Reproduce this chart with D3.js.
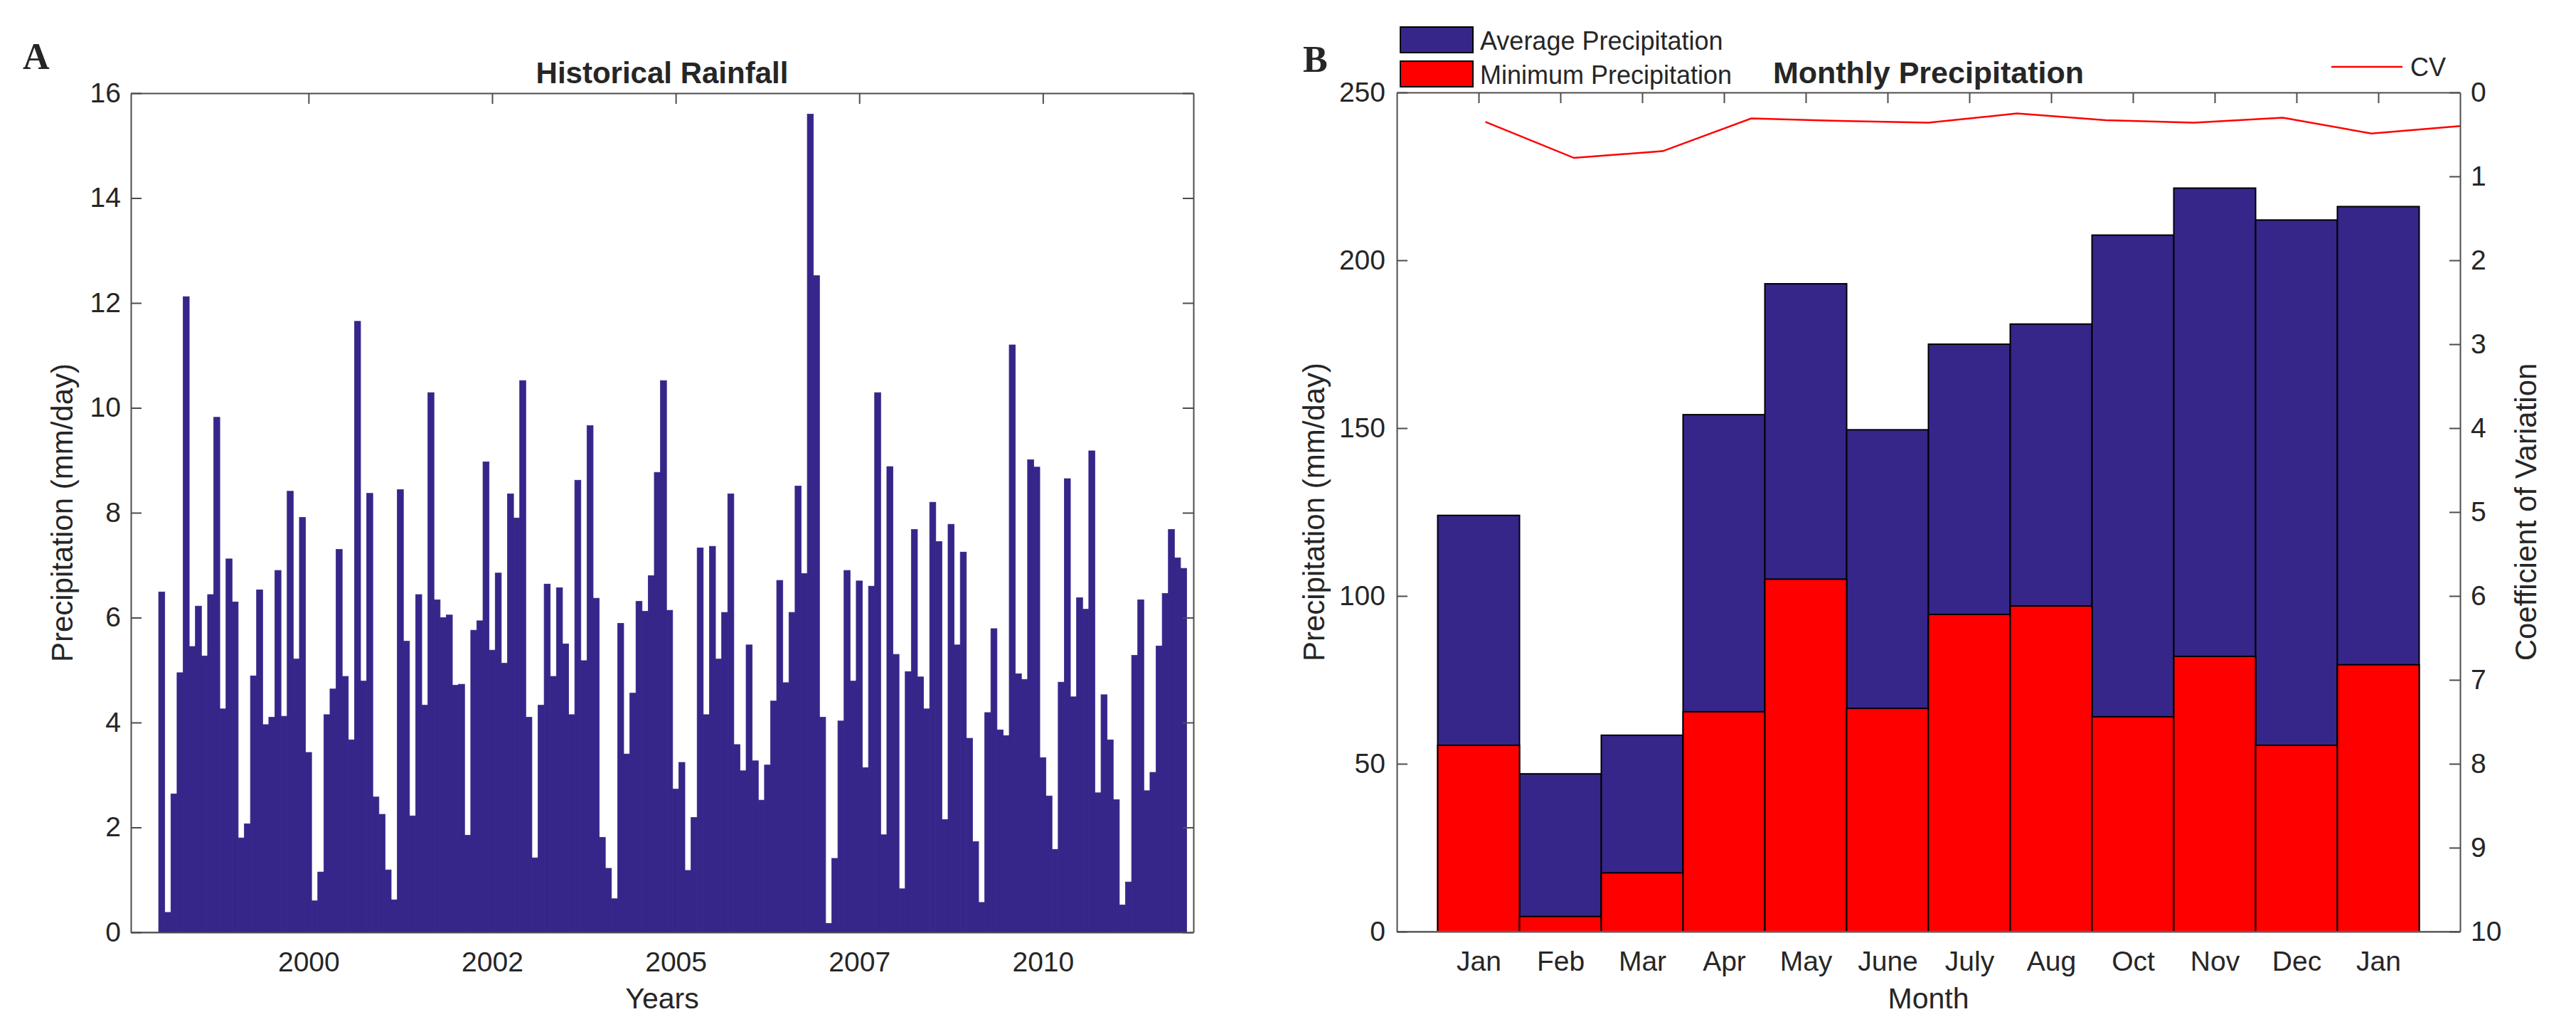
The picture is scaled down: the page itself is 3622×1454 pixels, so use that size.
<!DOCTYPE html>
<html><head><meta charset="utf-8">
<script src="https://cdn.jsdelivr.net/npm/d3@7"></script>
<style>
body{margin:0;background:#fff}
text{font-family:"Liberation Sans",Arial,Helvetica,sans-serif;fill:#262626}
</style>
</head><body>
<svg id="chart" width="3622" height="1454"></svg>
<script>
// ---------- data: panel A (monthly rainfall, mm/day) ----------
const rainfallStartYear = 1998;
const rainfall = [
 6.49,0.38,2.64,4.95,12.12,5.45,6.22,5.27,6.44,9.82,4.26,7.12,
 6.30,1.80,2.07,4.89,6.53,3.96,4.10,6.90,4.12,8.41,5.21,7.91,
 3.43,0.60,1.15,4.15,4.64,7.30,4.88,3.67,11.65,4.79,8.37,2.58,
 2.25,1.19,0.62,8.44,5.55,2.22,6.44,4.33,10.29,6.34,6.00,6.05,
 4.71,4.73,1.85,5.76,5.94,8.97,5.38,6.85,5.13,8.36,7.90,10.52,
 4.10,1.42,4.33,6.64,4.88,6.57,5.50,4.15,8.62,5.18,9.66,6.37,
 1.81,1.22,0.64,5.89,3.40,4.56,6.31,6.12,6.80,8.77,10.52,6.14,
 2.73,3.24,1.18,2.19,7.33,4.15,7.36,5.21,6.10,8.36,3.58,3.08,
 5.48,3.27,2.52,3.19,4.41,6.71,4.76,6.10,8.51,6.84,15.60,12.52,
 4.10,0.17,1.41,4.03,6.90,4.79,6.70,3.14,6.60,10.29,1.86,8.88,
 5.30,0.83,4.97,7.68,4.87,4.26,8.20,7.45,2.15,7.78,5.48,7.25,
 3.70,1.73,0.57,4.19,5.79,3.86,3.75,11.20,4.93,4.82,9.01,8.87,
 3.33,2.60,1.58,4.77,8.65,4.49,6.38,6.16,9.18,2.66,4.53,3.67,
 2.53,0.52,0.96,5.28,6.34,2.70,3.05,5.46,6.46,7.68,7.14,6.94
];
const yearTickValues = [2000, 2002.5, 2005, 2007.5, 2010];
const yearTickLabels = ["2000", "2002", "2005", "2007", "2010"];
const rainTicks = [0, 2, 4, 6, 8, 10, 12, 14, 16];

// ---------- data: panel B (monthly precipitation) ----------
const months = ["Jan","Feb","Mar","Apr","May","June","July","Aug","Oct","Nov","Dec","Jan"];
const avgPrecip = [124, 47, 58.5, 154, 193, 149.5, 175, 181, 207.5, 221.5, 212, 216];
const minPrecip = [55.5, 4.5, 17.5, 65.5, 105, 66.5, 94.5, 97, 64, 82, 55.5, 79.5];
const cvValues  = [0.35, 0.78, 0.70, 0.31, 0.34, 0.36, 0.25, 0.33, 0.36, 0.30, 0.49, 0.40];
const precipTicks = [0, 50, 100, 150, 200, 250];
const cvTicks = [0,1,2,3,4,5,6,7,8,9,10];

const BLUE = "#36268a", RED = "#ff0000", AX = "#4d4d4d";
const svg = d3.select("#chart");
svg.append("rect").attr("width",3622).attr("height",1454).attr("fill","#fff");

function styleAxis(g){
  g.select(".domain").attr("stroke", AX).attr("stroke-width", 2);
  g.selectAll(".tick line").attr("stroke", AX).attr("stroke-width", 2);
  g.selectAll(".tick text").attr("font-size", 39).attr("fill", "#262626")
   .style("font-family", '"Liberation Sans",Arial,sans-serif');
}

// ================= Panel A =================
const A = {l:184, r:1678, t:131, b:1311};
const xA = d3.scaleLinear().domain([1997.58, 2012.05]).range([A.l, A.r]);
const yA = d3.scaleLinear().domain([0, 16]).range([A.b, A.t]);
const monthW = xA(1/12) - xA(0);

const gA = svg.append("g");
gA.selectAll("rect.bar").data(rainfall).join("rect")
  .attr("class","bar")
  .attr("x", (d,i) => xA(rainfallStartYear + i/12 - 1/24))
  .attr("width", monthW)
  .attr("y", d => yA(d))
  .attr("height", d => yA(0) - yA(d))
  .attr("fill", BLUE).attr("stroke", BLUE).attr("stroke-width", 0.8);

// baseline
gA.append("line").attr("x1",A.l).attr("x2",xA(rainfallStartYear - 1/24)).attr("y1",yA(0)).attr("y2",yA(0))
  .attr("stroke","#8f8f8f").attr("stroke-width",2);

gA.append("g").attr("transform",`translate(${A.l},0)`)
  .call(d3.axisLeft(yA).tickValues(rainTicks).tickSizeInner(-15).tickSizeOuter(0).tickPadding(14))
  .call(styleAxis);
gA.append("g").attr("transform",`translate(${A.r},0)`)
  .call(d3.axisRight(yA).tickValues(rainTicks).tickSizeInner(-15).tickSizeOuter(0).tickFormat(""))
  .call(styleAxis);
gA.append("g").attr("transform",`translate(0,${A.t})`)
  .call(d3.axisTop(xA).tickValues(yearTickValues).tickSizeInner(-15).tickSizeOuter(0).tickFormat(""))
  .call(styleAxis);
gA.append("g").attr("transform",`translate(0,${A.b})`)
  .call(d3.axisBottom(xA).tickValues(yearTickValues).tickSizeInner(0).tickSizeOuter(0).tickPadding(27)
        .tickFormat((d,i) => yearTickLabels[i]))
  .call(styleAxis);

gA.append("text").attr("x",(A.l+A.r)/2).attr("y",117).attr("text-anchor","middle")
  .attr("font-size",42).attr("font-weight","bold").attr("fill","#000").text("Historical Rainfall");
gA.append("text").attr("x",(A.l+A.r)/2).attr("y",1418).attr("text-anchor","middle")
  .attr("font-size",41).text("Years");
gA.append("text").attr("transform",`translate(102,${(A.t+A.b)/2}) rotate(-90)`)
  .attr("text-anchor","middle").attr("font-size",42).text("Precipitation (mm/day)");
svg.append("text").attr("x",32).attr("y",97).attr("font-size",52).attr("font-weight","bold")
  .style("font-family",'"Liberation Serif","Times New Roman",serif').attr("fill","#000").text("A");

// ================= Panel B =================
const B = {l:1964, r:3459, t:130, b:1310};
const xB = d3.scaleLinear().domain([0, 13]).range([B.l, B.r]);
const yB = d3.scaleLinear().domain([0, 250]).range([B.b, B.t]);
const xCV = d3.scaleLinear().domain([0, 12]).range([B.l, B.r]);
const yCV = d3.scaleLinear().domain([0, 10]).range([B.t, B.b]);
const catPos = months.map((m,i) => i + 1);

const gB = svg.append("g");
gB.selectAll("rect.avg").data(avgPrecip).join("rect").attr("class","avg")
  .attr("x",(d,i)=>xB(catPos[i]-0.5)).attr("width",xB(1)-xB(0))
  .attr("y",d=>yB(d)).attr("height",d=>yB(0)-yB(d))
  .attr("fill",BLUE).attr("stroke","#000").attr("stroke-width",2);
gB.selectAll("rect.min").data(minPrecip).join("rect").attr("class","min")
  .attr("x",(d,i)=>xB(catPos[i]-0.5)).attr("width",xB(1)-xB(0))
  .attr("y",d=>yB(d)).attr("height",d=>yB(0)-yB(d))
  .attr("fill",RED).attr("stroke","#000").attr("stroke-width",2);

gB.append("line").attr("x1",B.l).attr("x2",B.r).attr("y1",yB(0)).attr("y2",yB(0))
  .attr("stroke","#8f8f8f").attr("stroke-width",2);

gB.append("path").datum(cvValues)
  .attr("d", d3.line().x((d,i)=>xCV(i+1)).y(d=>yCV(d)))
  .attr("fill","none").attr("stroke",RED).attr("stroke-width",2.5);

gB.append("g").attr("transform",`translate(${B.l},0)`)
  .call(d3.axisLeft(yB).tickValues(precipTicks).tickSizeInner(-15).tickSizeOuter(0).tickPadding(16))
  .call(styleAxis);
gB.append("g").attr("transform",`translate(${B.r},0)`)
  .call(d3.axisRight(yCV).tickValues(cvTicks).tickSizeInner(-15).tickSizeOuter(0).tickPadding(15))
  .call(styleAxis);
gB.append("g").attr("transform",`translate(0,${B.t})`)
  .call(d3.axisTop(xB).tickValues(catPos).tickSizeInner(-15).tickSizeOuter(0).tickFormat(""))
  .call(styleAxis);
gB.append("g").attr("transform",`translate(0,${B.b})`)
  .call(d3.axisBottom(xB).tickValues(catPos).tickSizeInner(0).tickSizeOuter(0).tickPadding(27)
        .tickFormat((d,i)=>months[i]))
  .call(styleAxis);

gB.append("text").attr("x",(B.l+B.r)/2).attr("y",117).attr("text-anchor","middle")
  .attr("font-size",43).attr("font-weight","bold").attr("fill","#000").text("Monthly Precipitation");
gB.append("text").attr("x",(B.l+B.r)/2).attr("y",1418).attr("text-anchor","middle")
  .attr("font-size",41).text("Month");
gB.append("text").attr("transform",`translate(1862,${(B.t+B.b)/2}) rotate(-90)`)
  .attr("text-anchor","middle").attr("font-size",42).text("Precipitation (mm/day)");
gB.append("text").attr("transform",`translate(3566,${(B.t+B.b)/2}) rotate(-90)`)
  .attr("text-anchor","middle").attr("font-size",42).text("Coefficient of Variation");
svg.append("text").attr("x",1832).attr("y",101).attr("font-size",52).attr("font-weight","bold")
  .style("font-family",'"Liberation Serif","Times New Roman",serif').attr("fill","#000").text("B");

// legends
const legItems = [{label:"Average Precipitation", color:BLUE},{label:"Minimum Precipitation", color:RED}];
const leg = gB.append("g");
leg.selectAll("rect").data(legItems).join("rect")
  .attr("x",1969).attr("y",(d,i)=>38+i*48).attr("width",102).attr("height",36)
  .attr("fill",d=>d.color).attr("stroke","#000").attr("stroke-width",2);
leg.selectAll("text").data(legItems).join("text")
  .attr("x",2081).attr("y",(d,i)=>70+i*48).attr("font-size",36).text(d=>d.label);

gB.append("line").attr("x1",3278).attr("x2",3378).attr("y1",94).attr("y2",94)
  .attr("stroke",RED).attr("stroke-width",2.5);
gB.append("text").attr("x",3389).attr("y",107).attr("font-size",36).text("CV");
</script>
</body></html>
